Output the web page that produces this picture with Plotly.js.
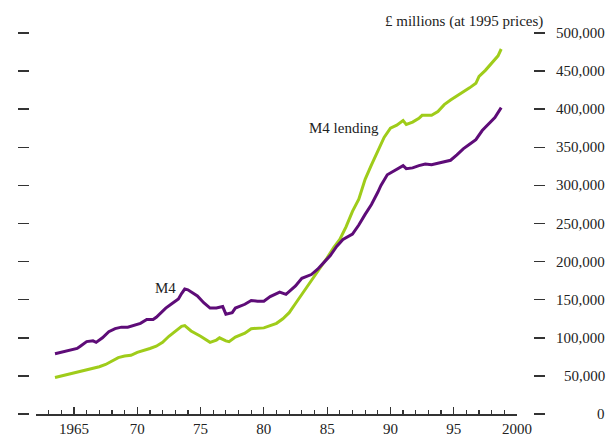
<!DOCTYPE html>
<html>
<head>
<meta charset="utf-8">
<script src="https://cdn.plot.ly/plotly-3.0.1.min.js"></script>
<style>
  html, body { margin: 0; padding: 0; background: #fff; }
  #chart { width: 607px; height: 437px; }
</style>
</head>
<body>
<div id="chart"></div>
<script>
(function() {
  "use strict";

  // M4 (purple), £ millions at 1995 prices
  var m4Years = [1963.5, 1964.0, 1964.5, 1965.0, 1965.25, 1965.5, 1966.0, 1966.5, 1966.75, 1967.25,
    1967.75, 1968.25, 1968.75, 1969.25, 1969.75, 1970.25, 1970.75, 1971.25, 1971.5, 1971.75,
    1972.25, 1972.75, 1973.25, 1973.5, 1973.75, 1974.0, 1974.5, 1974.75, 1975.25, 1975.75,
    1976.25, 1976.75, 1977.0, 1977.5, 1977.75, 1978.5, 1979.0, 1979.5, 1980.0, 1980.5,
    1981.25, 1981.75, 1982.5, 1983.0, 1983.75, 1984.25, 1984.75, 1985.25, 1985.75, 1986.25,
    1987.0, 1987.5, 1988.0, 1988.5, 1989.0, 1989.25, 1989.75, 1990.25, 1991.0, 1991.25,
    1991.75, 1992.25, 1992.75, 1993.25, 1993.75, 1994.25, 1994.75, 1995.25, 1995.75, 1996.25,
    1996.75, 1997.25, 1997.75, 1998.25, 1998.75];
  var m4Values = [79, 81, 84, 85, 86, 89, 95, 96, 94, 100,
    108, 112, 114, 114, 117, 119, 124, 124, 127, 131,
    139, 145, 151, 158, 164, 163, 158, 155, 146, 139,
    139, 141, 131, 133, 139, 144, 149, 148, 148, 154,
    160, 157, 168, 178, 183, 190, 199, 208, 220, 229,
    236, 248, 262, 275, 291, 300, 314, 319, 326, 322,
    323, 326, 328, 327, 329, 331, 333, 340, 348, 354,
    360, 372, 381, 389, 402];

  // M4 lending (green)
  var lendYears = [1963.5, 1964.0, 1964.5, 1965.0, 1965.5, 1966.0, 1966.5, 1967.0, 1967.5, 1968.0,
    1968.5, 1969.0, 1969.5, 1970.0, 1970.5, 1971.0, 1971.5, 1972.0, 1972.5, 1973.0,
    1973.5, 1973.75, 1974.25, 1975.0, 1975.75, 1976.25, 1976.5, 1977.0, 1977.25, 1977.75,
    1978.5, 1979.0, 1980.0, 1980.5, 1981.0, 1981.5, 1982.0, 1982.5, 1983.0, 1983.5,
    1984.0, 1984.5, 1985.0, 1985.5, 1986.0, 1986.5, 1987.0, 1987.5, 1988.0, 1988.5,
    1989.0, 1989.5, 1990.0, 1990.5, 1991.0, 1991.25, 1991.75, 1992.25, 1992.5, 1993.25,
    1993.75, 1994.25, 1994.75, 1995.25, 1995.75, 1996.25, 1996.75, 1997.0, 1997.5, 1998.0,
    1998.5, 1998.75];
  var lendValues = [48, 50, 52, 54, 55, 57, 59, 62, 65, 70,
    74, 76, 77, 81, 83, 86, 89, 94, 102, 108,
    115, 116, 109, 102, 94, 97, 100, 96, 95, 101,
    106, 112, 113, 116, 119, 125, 133, 145, 157, 168,
    180, 193, 205, 218, 229, 246, 266, 282, 308, 327,
    345, 363, 375, 379, 385, 380, 383, 388, 392, 392,
    397, 406, 412, 417, 422, 428, 434, 443, 451, 460,
    470, 479];

  var yTickVals = [0, 50000, 100000, 150000, 200000, 250000, 300000, 350000, 400000, 450000, 500000];
  var yTickText = ["0", "50,000", "100,000", "150,000", "200,000", "250,000", "300,000",
    "350,000", "400,000", "450,000", "500,000"];
  var xTickVals = [1965, 1970, 1975, 1980, 1985, 1990, 1995, 2000];
  var xTickText = ["1965", "70", "75", "80", "85", "90", "95", "2000"];

  var serif = "Liberation Serif, Times New Roman, serif";

  function toMillions(list) {
    return list.map(function(v) { return v * 1000; });
  }

  function main() {
    var traceM4 = {
      x: m4Years,
      y: toMillions(m4Values),
      name: "M4",
      type: "scatter",
      mode: "lines",
      line: { color: "#5e0c78", width: 3 }
    };
    var traceLend = {
      x: lendYears,
      y: toMillions(lendValues),
      name: "M4 lending",
      type: "scatter",
      mode: "lines",
      line: { color: "#9fcc1a", width: 3 }
    };

    var annotations = yTickVals.map(function(v, i) {
      return {
        xref: "paper", yref: "y", x: 1, y: v,
        xanchor: "right", yanchor: "middle", xshift: 74,
        text: yTickText[i], showarrow: false,
        font: { family: serif, size: 15, color: "#222" }
      };
    });
    annotations.push({
      xref: "paper", yref: "paper", x: 1, y: 1,
      xanchor: "right", yanchor: "bottom", xshift: 12, yshift: 1,
      text: "£ millions (at 1995 prices)", showarrow: false,
      font: { family: serif, size: 15, color: "#222" }
    });
    annotations.push({
      x: 1972.2, y: 166000, text: "M4", showarrow: false,
      font: { family: serif, size: 15, color: "#222" }
    });
    annotations.push({
      x: 1986.3, y: 375000, text: "M4 lending", showarrow: false,
      font: { family: serif, size: 15, color: "#222" }
    });

    var layout = {
      width: 607,
      height: 437,
      margin: { l: 29, r: 74, t: 33, b: 23 },
      paper_bgcolor: "#fff",
      plot_bgcolor: "#fff",
      showlegend: false,
      font: { family: serif, size: 15, color: "#222" },
      xaxis: {
        domain: [0.0139, 0.9683],
        range: [1962, 2000],
        anchor: "y",
        showgrid: false,
        zeroline: false,
        showline: true,
        linecolor: "#333",
        linewidth: 1.5,
        ticks: "inside",
        ticklen: 7,
        tickwidth: 1.2,
        tickcolor: "#333",
        tickvals: xTickVals,
        ticktext: xTickText,
        tickfont: { family: serif, size: 15, color: "#222" },
        minor: { dtick: 1, tick0: 1962, ticks: "inside", ticklen: 4, tickwidth: 1.2, tickcolor: "#333", showgrid: false }
      },
      yaxis: {
        range: [0, 500000],
        anchor: "free",
        position: 0,
        showgrid: false,
        zeroline: false,
        showline: false,
        ticks: "outside",
        ticklen: 11,
        tickwidth: 1.5,
        tickcolor: "#333",
        tickvals: yTickVals,
        showticklabels: false
      },
      yaxis2: {
        range: [0, 500000],
        overlaying: "y",
        side: "right",
        anchor: "free",
        position: 1,
        showgrid: false,
        zeroline: false,
        showline: false,
        ticks: "outside",
        ticklen: 11,
        tickwidth: 1.5,
        tickcolor: "#333",
        tickvals: yTickVals,
        showticklabels: false
      },
      annotations: annotations
    };

    // empty trace so the right-hand axis is drawn
    var rightAxisTrace = { x: [], y: [], yaxis: "y2", type: "scatter", mode: "lines", hoverinfo: "skip" };

    Plotly.newPlot("chart", [traceLend, traceM4, rightAxisTrace], layout, { displayModeBar: false, staticPlot: true });
  }

  window.addEventListener("load", main, false);
})();
</script>
</body>
</html>
